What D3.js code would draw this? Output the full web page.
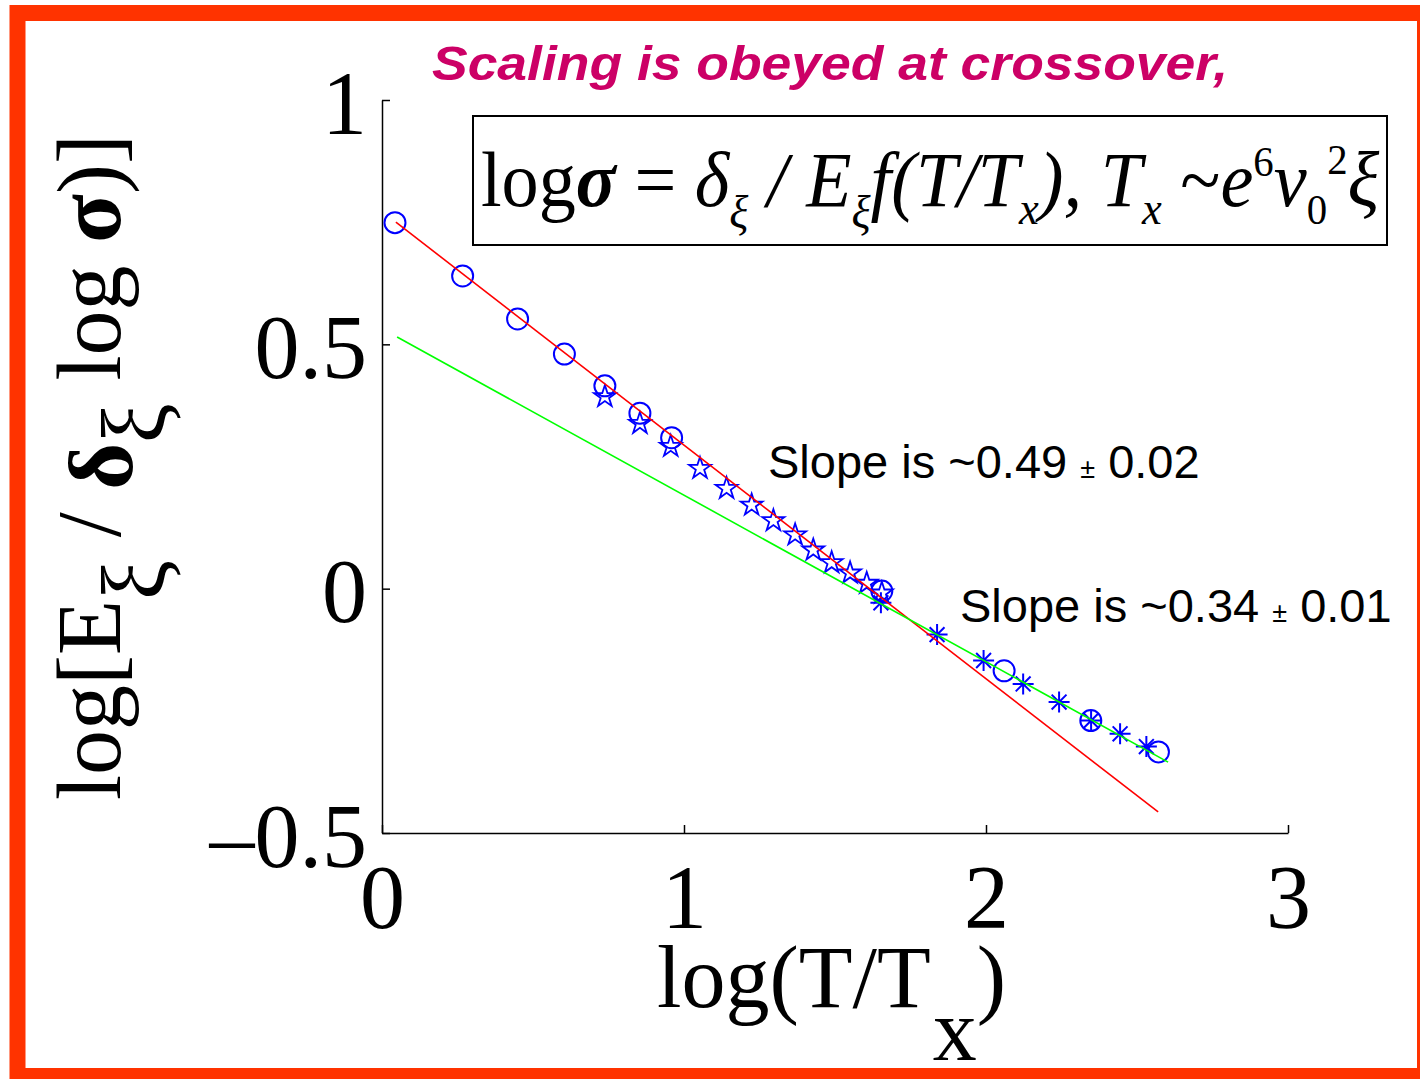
<!DOCTYPE html>
<html>
<head>
<meta charset="utf-8">
<script src="https://cdn.jsdelivr.net/npm/d3@7"></script>
<style>
  body { margin: 0; background: #fff; }
  svg { display: block; }
</style>
</head>
<body>
<svg id="chart" width="1420" height="1079"></svg>
<script>
// ---- data ----
const xTicks = [0, 1, 2, 3];
const xTickLabels = ["0", "1", "2", "3"];
const yTicks = [-0.5, 0, 0.5, 1];
const yTickLabels = ["\u20130.5", "0", "0.5", "1"];

// open circles
const circleX = [0.043, 0.267, 0.449, 0.604, 0.738, 0.854, 0.959, 1.655, 2.060, 2.347, 2.571];
const circleY = [0.749, 0.640, 0.552, 0.480, 0.415, 0.359, 0.309, -0.005, -0.168, -0.270, -0.334];

// pentagrams
const starX = [0.738, 0.854, 0.956, 1.053, 1.141, 1.224, 1.296, 1.368, 1.428, 1.489, 1.550, 1.605, 1.655];
const starY = [0.393, 0.338, 0.291, 0.246, 0.205, 0.171, 0.139, 0.110, 0.079, 0.053, 0.032, 0.011, -0.009];

// asterisks
const asteriskX = [1.652, 1.838, 1.992, 2.123, 2.242, 2.348, 2.444, 2.531];
const asteriskY = [-0.029, -0.094, -0.147, -0.195, -0.232, -0.270, -0.297, -0.323];

// straight-line fits
const fitSteepX = [0.046, 2.57];
const fitSteepY = [0.750, -0.457];
const fitShallowX = [0.05, 2.603];
const fitShallowY = [0.515, -0.355];

// ---- drawing ----
const svg = d3.select("#chart");
const serif = "'Liberation Serif', 'Times New Roman', serif";
const sans = "'Liberation Sans', Arial, sans-serif";
const blue = "#0000FF";

// frame
svg.append("rect")
  .attr("x", 17.5).attr("y", 13)
  .attr("width", 1407.5).attr("height", 1063)
  .attr("fill", "none").attr("stroke", "#FF3300").attr("stroke-width", 16);

const x = d3.scaleLinear().domain([0, 3]).range([382, 1288]);
const y = d3.scaleLinear().domain([-0.5, 1]).range([833, 100]);

// axes (ticks pointing inward)
const xAxis = svg.append("g").attr("transform", `translate(0,${y(-0.5)})`)
  .call(d3.axisBottom(x).tickValues(xTicks).tickSize(-8).tickSizeOuter(0)
        .tickFormat((d, i) => xTickLabels[i]));
const yAxis = svg.append("g").attr("transform", `translate(${x(0)},0)`)
  .call(d3.axisLeft(y).tickValues(yTicks).tickSize(-8).tickSizeOuter(0)
        .tickFormat((d, i) => yTickLabels[i]));

[xAxis, yAxis].forEach(g => {
  g.select(".domain").attr("stroke", "#000").attr("stroke-width", 1.5);
  g.selectAll(".tick line").attr("stroke", "#000").attr("stroke-width", 1.5);
  g.selectAll(".tick text").attr("fill", "#000")
    .style("font-family", serif).style("font-size", "90px");
});
xAxis.selectAll(".tick text").attr("y", 95).attr("dy", null);
yAxis.selectAll(".tick text").attr("x", -15).attr("dy", "0.37em");

// fits
const line = d3.line().x(d => x(d[0])).y(d => y(d[1]));
const steep = fitSteepX.map((v, i) => [v, fitSteepY[i]]);
const shallow = fitShallowX.map((v, i) => [v, fitShallowY[i]]);

// markers
const circles = circleX.map((v, i) => [v, circleY[i]]);
const stars = starX.map((v, i) => [v, starY[i]]);
const asterisks = asteriskX.map((v, i) => [v, asteriskY[i]]);

function pentagram(R) {
  const r = R * 0.382;
  const pts = [];
  for (let k = 0; k < 10; k++) {
    const a = -Math.PI / 2 + k * Math.PI / 5;
    const rad = k % 2 === 0 ? R : r;
    pts.push([rad * Math.cos(a), rad * Math.sin(a)]);
  }
  return "M" + pts.map(p => p.join(",")).join("L") + "Z";
}
function asteriskPath(R) {
  const d = R * 0.707;
  return `M${-R},0L${R},0M0,${-R}L0,${R}M${-d},${-d}L${d},${d}M${-d},${d}L${d},${-d}`;
}

const marks = svg.append("g");
marks.selectAll("circle.pt").data(circles).join("circle")
  .attr("class", "pt")
  .attr("cx", d => x(d[0])).attr("cy", d => y(d[1])).attr("r", 10.5)
  .attr("fill", "none").attr("stroke", blue).attr("stroke-width", 2);
marks.selectAll("path.star").data(stars).join("path")
  .attr("class", "star")
  .attr("transform", d => `translate(${x(d[0])},${y(d[1])})`)
  .attr("d", pentagram(11.5))
  .attr("fill", "none").attr("stroke", blue).attr("stroke-width", 1.8);
marks.selectAll("path.ast").data(asterisks).join("path")
  .attr("class", "ast")
  .attr("transform", d => `translate(${x(d[0])},${y(d[1])})`)
  .attr("d", asteriskPath(10.5))
  .attr("fill", "none").attr("stroke", blue).attr("stroke-width", 2);

svg.append("path").datum(steep).attr("d", line)
  .attr("fill", "none").attr("stroke", "#FF0000").attr("stroke-width", 1.6);
svg.append("path").datum(shallow).attr("d", line)
  .attr("fill", "none").attr("stroke", "#00FF00").attr("stroke-width", 1.6);

// title
svg.append("text").attr("x", 432).attr("y", 80)
  .style("font-family", sans).style("font-size", "49px")
  .style("font-weight", "bold").style("font-style", "italic")
  .attr("fill", "#CC0066")
  .attr("textLength", 796).attr("lengthAdjust", "spacingAndGlyphs")
  .text("Scaling is obeyed at crossover,");

// formula box
svg.append("rect").attr("x", 473).attr("y", 116).attr("width", 914).attr("height", 129)
  .attr("fill", "none").attr("stroke", "#000").attr("stroke-width", 2);

const F = 78;
const formulaParts = [
  { t: "log", up: true },
  { t: "\u03C3", bold: true },
  { t: " = ", up: true },
  { t: "\u03B4" },
  { t: "\u03BE", shift: 22, size: 0.6 },
  { t: " / " },
  { t: "E" },
  { t: "\u03BE", shift: 22, size: 0.6 },
  { t: "f(T/T" },
  { t: "x", shift: 18, size: 0.6 },
  { t: "), " },
  { t: "T" },
  { t: "x", shift: 18, size: 0.6 },
  { t: " ~", up: true },
  { t: "e" },
  { t: "6", shift: -30, size: 0.55, up: true },
  { t: "\u03BD" },
  { t: "0", shift: 18, size: 0.55, up: true },
  { t: "2", shift: -32, size: 0.55, up: true },
  { t: "\u03BE" }
];
const formula = svg.append("text").attr("x", 0).attr("y", 0)
  .style("font-family", serif).style("font-size", F + "px").attr("fill", "#000");
let prevShift = 0;
formulaParts.forEach(p => {
  const s = p.shift || 0;
  formula.append("tspan")
    .attr("dy", s - prevShift)
    .style("font-size", (p.size ? p.size * F : F) + "px")
    .style("font-style", p.up ? "normal" : "italic")
    .style("font-weight", p.bold ? "bold" : "normal")
    .text(p.t);
  prevShift = s;
});
{
  const bb = formula.node().getBBox();
  const targetW = 1380 - 481;
  const sx = targetW / bb.width;
  formula.attr("transform", `translate(${481 - bb.x * sx},206) scale(${sx},1)`);
}

// slope annotations
function slopeLabel(x0, y0, main, err) {
  const t = svg.append("text").attr("x", x0).attr("y", y0)
    .style("font-family", sans).style("font-size", "47px").attr("fill", "#000");
  t.append("tspan").text(main + " ");
  t.append("tspan").style("font-size", "27px").text("\u00B1");
  t.append("tspan").text(" " + err);
}
slopeLabel(768, 478, "Slope is ~0.49", "0.02");
slopeLabel(960, 622, "Slope is ~0.34", "0.01");

// x-axis label
const xl = svg.append("text").attr("x", 657).attr("y", 1007)
  .style("font-family", serif).style("font-size", "88px").attr("fill", "#000");
xl.append("tspan").text("log(T/T");
xl.append("tspan").attr("dx", 2).attr("dy", 53).text("x");
xl.append("tspan").attr("dy", -53).text(")");

// y-axis label
const yl = svg.append("text")
  .attr("transform", "translate(120,467) rotate(-90)")
  .attr("text-anchor", "middle")
  .style("font-family", serif).style("font-size", "90px").attr("fill", "#000");
yl.append("tspan").text("log[E");
yl.append("tspan").attr("dy", 45).text("\u03BE");
yl.append("tspan").attr("dy", -45).text(" / ");
yl.append("tspan").attr("dy", 12).style("font-weight", "bold").text("\u03B4");
yl.append("tspan").attr("dy", 33).text("\u03BE");
yl.append("tspan").attr("dy", -45).text(" log ");
yl.append("tspan").style("font-weight", "bold").text("\u03C3");
yl.append("tspan").text(")]");
</script>
</body>
</html>
